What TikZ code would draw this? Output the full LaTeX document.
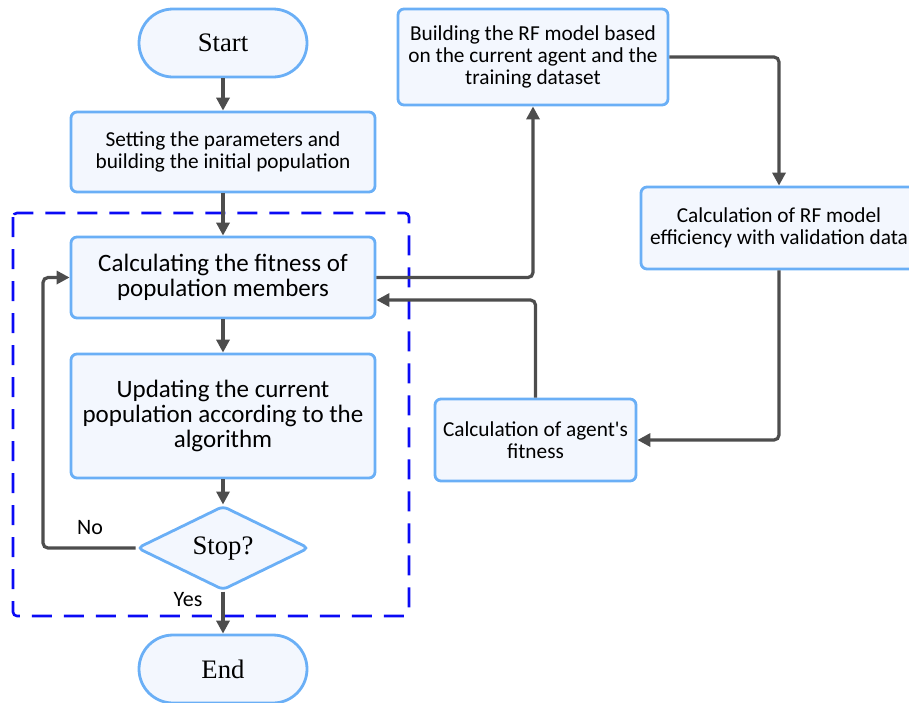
\documentclass[tikz,border=0pt]{standalone}
\usepackage{fontspec}
\setmainfont{Liberation Serif}
\newfontfamily\boxfont{Carlito}
\usetikzlibrary{arrows.meta, shapes.geometric}

\definecolor{boxfill}{HTML}{F3F7FE}
\definecolor{boxline}{HTML}{6AAFF6}
\definecolor{flowline}{HTML}{4D4D4D}
\definecolor{loopline}{HTML}{0A0AF5}

\tikzset{
    block/.style={draw=boxline, fill=boxfill, line width=2.8pt, rounded corners=6pt,
        align=center, inner sep=2pt, font=\boxfont\fontsize{21.3}{22}\selectfont},
    bigblock/.style={block, font=\boxfont\fontsize{25}{25}\selectfont},
    terminal/.style={draw=boxline, fill=boxfill, line width=2.8pt, rounded corners=34pt,
        minimum width=168pt, minimum height=68pt, font=\fontsize{26.7}{28}\selectfont},
    decision/.style={diamond, draw=boxline, fill=boxfill, line width=2.8pt, rounded corners=5pt,
        minimum width=172pt, minimum height=84pt, inner sep=0pt, font=\fontsize{26.7}{28}\selectfont},
    flow/.style={draw=flowline, line width=3.2pt, rounded corners=5pt,
        -{Triangle[length=13pt,width=13pt]}},
    answer/.style={font=\boxfont\fontsize{22}{24}\selectfont},
}

\begin{document}
\begin{tikzpicture}[x=1pt, y=-1pt]
    \useasboundingbox (0,0) rectangle (909,702);

    % optimisation loop
    \draw[loopline, line width=2.6pt, dash pattern=on 20pt off 12pt, rounded corners=4pt]
        (13,213) rectangle (409,616);

    % main column
    \node[terminal] (start) at (223,43) {Start};
    \node[block, minimum width=304pt, minimum height=80pt] (init) at (223,152)
        {Setting the parameters and\\building the initial population};
    \node[bigblock, minimum width=304pt, minimum height=81pt] (fitness) at (223,277.5)
        {Calculating the fitness of\\population members};
    \node[bigblock, minimum width=304pt, minimum height=124pt] (update) at (223,416)
        {Updating the current\\population according to the\\algorithm};
    \node[decision] (stop) at (223,548) {Stop?};
    \node[terminal] (end) at (223,669) {End};

    % evaluation of one agent
    \node[block, minimum width=270pt, minimum height=96pt] (build) at (533,57)
        {Building the RF model based\\on the current agent and the\\training dataset};
    \node[block, minimum width=276pt, minimum height=82pt] (valid) at (779,228)
        {Calculation of RF model\\efficiency with validation data};
    \node[block, minimum width=201pt, minimum height=82pt] (agent) at (535.5,440)
        {Calculation of agent's\\fitness};

    \coordinate (back) at (43,277.5);

    \draw[flow] (start) -- (init);
    \draw[flow] (init) -- (fitness);
    \draw[flow] (fitness) -- (update);
    \draw[flow] (update) -- (stop);
    \draw[flow] (stop) -- (end);
    \draw[flow] (stop.west) -- (back |- stop) -- (back) -- (fitness.west);

    \draw[flow] (fitness.east) -- (533,277.5) -- (build.south);
    \draw[flow] (build.east) -- (valid.north |- build) -- (valid.north);
    \draw[flow] (valid.south) -- (valid.south |- agent) -- (agent.east);
    \draw[flow] (agent.north) -- (agent.north |- 0,300) -- (fitness.east |- 0,300);

    \node[answer] (no) at (90,528) {No};
    \node[answer] (yes) at (188,600) {Yes};
\end{tikzpicture}
\end{document}
